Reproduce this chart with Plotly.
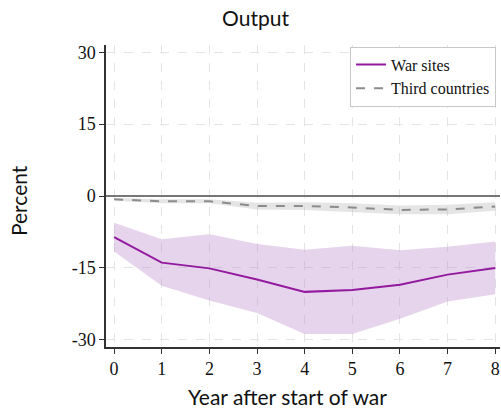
import plotly.graph_objects as go

years = [0, 1, 2, 3, 4, 5, 6, 7, 8]

war_mid = [-8.6, -13.9, -15.1, -17.4, -20.0, -19.6, -18.5, -16.4, -15.0]
war_hi = [-5.6, -9.0, -8.0, -10.0, -11.2, -10.4, -11.3, -10.6, -9.5]
war_lo = [-11.6, -18.7, -21.8, -24.4, -28.8, -28.8, -25.6, -22.0, -20.5]

third_mid = [-0.7, -1.1, -1.1, -2.1, -2.1, -2.4, -2.9, -2.8, -2.2]
third_hi = [-0.4, -0.7, -0.7, -1.4, -1.3, -1.5, -2.0, -1.8, -1.3]
third_lo = [-1.0, -1.5, -1.5, -2.8, -2.9, -3.3, -3.8, -3.8, -3.1]

y_ticks = [30, 15, 0, -15, -30]

serif = "Liberation Serif"
sans = "Lato"

fig = go.Figure()

# confidence bands
fig.add_trace(go.Scatter(x=years, y=war_hi, mode="lines", line=dict(width=0),
                         showlegend=False, hoverinfo="skip"))
fig.add_trace(go.Scatter(x=years, y=war_lo, mode="lines", line=dict(width=0),
                         fill="tonexty", fillcolor="rgba(190,140,205,0.38)",
                         showlegend=False, hoverinfo="skip"))
fig.add_trace(go.Scatter(x=years, y=third_hi, mode="lines", line=dict(width=0),
                         showlegend=False, hoverinfo="skip"))
fig.add_trace(go.Scatter(x=years, y=third_lo, mode="lines", line=dict(width=0),
                         fill="tonexty", fillcolor="rgba(170,170,170,0.3)",
                         showlegend=False, hoverinfo="skip"))

# point estimates
fig.add_trace(go.Scatter(x=years, y=war_mid, mode="lines", name="War sites",
                         line=dict(color="#93199e", width=2)))
fig.add_trace(go.Scatter(x=years, y=third_mid, mode="lines", name="Third countries",
                         line=dict(color="#8c8c8c", width=2, dash="dash")))

fig.update_layout(
    width=501, height=410,
    margin=dict(l=106, r=1, t=45, b=63),
    paper_bgcolor="white", plot_bgcolor="white",
    title=dict(text="Output", x=0.51, xanchor="center", y=0.955, yanchor="middle",
               font=dict(family=sans, size=21, color="#111")),
    legend=dict(x=0.99, y=0.995, xanchor="right", yanchor="top",
                traceorder="normal",
                bgcolor="white", bordercolor="#c8c8c8", borderwidth=1,
                font=dict(family=serif, size=16, color="#111"),
                tracegroupgap=0, itemwidth=30),
    showlegend=True,
)

# axis titles placed in paper coordinates
fig.add_annotation(text="Year after start of war", xref="paper", yref="paper",
                   x=0.46, y=-0.163, xanchor="center", yanchor="middle", showarrow=False,
                   font=dict(family=sans, size=21, color="#111"))
fig.add_annotation(text="Percent", xref="paper", yref="paper", textangle=-90,
                   x=-0.222, y=0.485, xanchor="center", yanchor="middle", showarrow=False,
                   font=dict(family=sans, size=21, color="#111"))

fig.update_xaxes(
    range=[-0.17, 8.1], tickvals=years, ticktext=[str(v) for v in years],
    ticks="outside", ticklen=5, tickcolor="#333",
    showline=True, linecolor="#333", linewidth=1.5, mirror=False,
    showgrid=True, gridcolor="#e4e4e4", griddash="dash", gridwidth=1,
    zeroline=False, automargin=False,
    tickfont=dict(family=serif, size=18, color="#111"),
)
fig.update_yaxes(
    range=[-31.5, 31.5], tickvals=y_ticks, ticktext=[str(v) for v in y_ticks],
    ticks="outside", ticklen=5, tickcolor="#333",
    showline=True, linecolor="#333", linewidth=1.5,
    showgrid=True, gridcolor="#e4e4e4", griddash="dash", gridwidth=1,
    zeroline=True, zerolinecolor="#777", zerolinewidth=2, automargin=False,
    tickfont=dict(family=serif, size=18, color="#111"),
)

fig.write_html("out.html")
